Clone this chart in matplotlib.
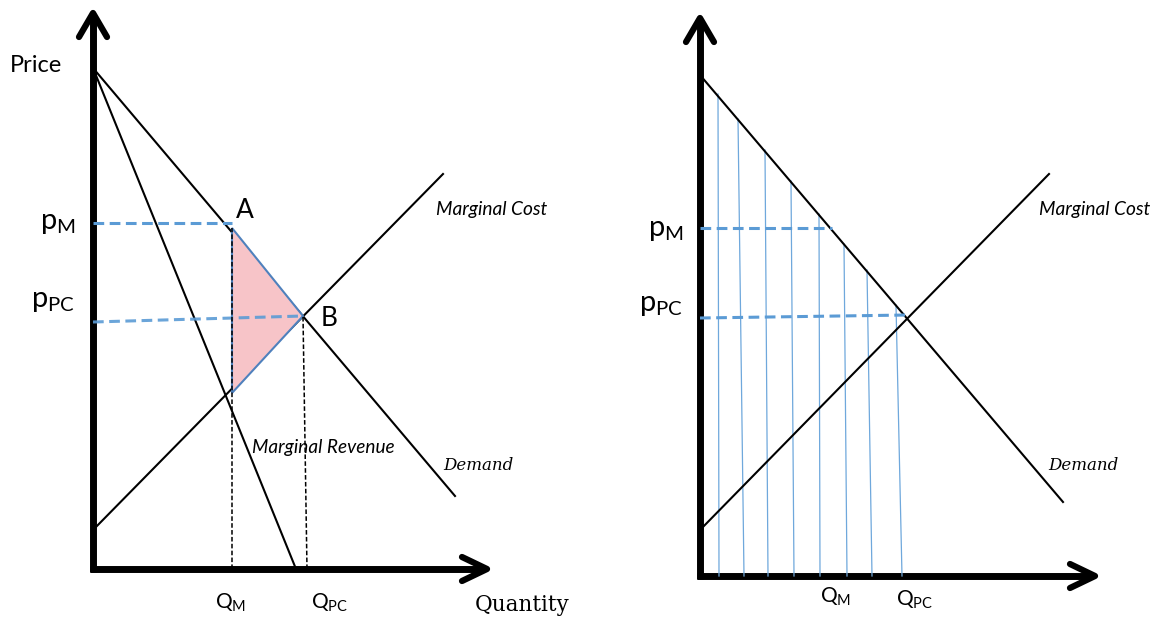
import numpy as np
import matplotlib.pyplot as plt

# ---- data (quantity, price units; origin = axes corner) ----
# left panel: monopoly vs perfect competition
L_demand_q = [0, 362]
L_demand_p = [501, 73]
L_mr_q = [0, 203]
L_mr_p = [501, 0]
L_mc_q = [0, 350]
L_mc_p = [39, 395]
L_tri_q = [139, 210, 139]          # deadweight-loss triangle A, B, C
L_tri_p = [341, 253, 176]
L_pm_q, L_pm_p = [0, 139], [346, 346]
L_ppc_q, L_ppc_p = [0, 210], [247, 253]
L_qm_q, L_qm_p = [139, 139], [0, 341]
L_qpc_q, L_qpc_p = [214, 210], [0, 253]

# right panel: demand / marginal cost with strips under demand
R_demand_q = [0, 363]
R_demand_p = [501, 74]
R_mc_q = [0, 349]
R_mc_p = [46, 402]
R_pm_q, R_pm_p = [0, 132], [348, 348]
R_ppc_q, R_ppc_p = [0, 208], [258, 261]
R_strip_top_q = [18, 38, 65, 91, 119, 144, 167, 196]
R_strip_top_p = [482, 457, 426, 395, 362, 332, 306, 271]
R_strip_bot_q = [19, 44, 68, 94, 120, 147, 172, 202]

sans = 'Lato'
serif = 'DejaVu Serif'
blue = '#5B9BD5'

fig = plt.figure(figsize=(11.66, 6.17), dpi=100)
axL = fig.add_axes([0, 0, 0.5, 1])
axR = fig.add_axes([0.5, 0, 0.5, 1])
axL.set_xlim(-93, 490)
axL.set_ylim(-48, 569)
axR.set_xlim(-117, 466)
axR.set_ylim(-41, 576)


def draw_axes(ax, xmax, ymax):
    ax.plot([0, 0], [-3, ymax - 2], color='black', lw=5, solid_capstyle='butt')
    ax.plot([-3, xmax - 2], [0, 0], color='black', lw=5, solid_capstyle='butt')
    ax.plot([-14, 0, 14], [ymax - 24, ymax, ymax - 24], color='black', lw=4.5,
            solid_capstyle='round', solid_joinstyle='round')
    ax.plot([xmax - 25, xmax, xmax - 25], [12, 0, -12], color='black', lw=4.5,
            solid_capstyle='round', solid_joinstyle='round')
    ax.axis('off')


# ---- left panel ----
ax = axL
draw_axes(ax, 394, 556)
ax.plot(L_demand_q, L_demand_p, color='black', lw=1.5)
ax.plot(L_mr_q, L_mr_p, color='black', lw=1.5)
ax.plot(L_mc_q, L_mc_p, color='black', lw=1.5)
ax.fill(L_tri_q, L_tri_p, facecolor='#F7C4C8', edgecolor='#4F81BD', lw=1.5, zorder=3)
ax.plot(L_pm_q, L_pm_p, color=blue, lw=2.2, ls=(0, (3.5, 1.8)), zorder=4)
ax.plot(L_ppc_q, L_ppc_p, color=blue, lw=2.2, ls=(0, (3.5, 1.8)), zorder=4, alpha=0.9)
ax.plot(L_qm_q, L_qm_p, color='black', lw=1.1, ls=(0, (3, 1.5)), zorder=5)
ax.plot(L_qpc_q, L_qpc_p, color='black', lw=1.1, ls=(0, (3, 1.5)), zorder=5)

ax.text(-83, 504, 'Price', family=sans, fontsize=17, ha='left', va='center')
ax.text(-17, 346, r'$\mathregular{p_M}$', family=sans, fontsize=21, ha='right', va='center')
ax.text(-18, 268, r'$\mathregular{p_{PC}}$', family=sans, fontsize=21, ha='right', va='center')
ax.text(138, -34, r'$\mathregular{Q_M}$', family=sans, fontsize=15, ha='center', va='center')
ax.text(218, -34, r'$\mathregular{Q_{PC}}$', family=sans, fontsize=15, ha='left', va='center')
ax.text(143, 358, 'A', family=sans, fontsize=19, ha='left', va='center')
ax.text(228, 251, 'B', family=sans, fontsize=19, ha='left', va='center')
ax.text(343, 360, 'Marginal Cost', family=sans, style='italic', fontsize=13.8,
        ha='left', va='center')
ax.text(159, 122, 'Marginal Revenue', family=sans, style='italic', fontsize=13.7,
        ha='left', va='center')
ax.text(350, 104, 'Demand', family=serif, style='italic', fontsize=12,
        ha='left', va='center')
ax.text(382, -36, 'Quantity', family=serif, fontsize=15.5, ha='left', va='center')

# ---- right panel ----
ax = axR
draw_axes(ax, 395, 558)
for qt, pt, qb in zip(R_strip_top_q, R_strip_top_p, R_strip_bot_q):
    ax.plot([qt, qb], [pt, 0], color='#6FA8DC', lw=0.9, zorder=2)
ax.plot(R_demand_q, R_demand_p, color='black', lw=1.5, zorder=3)
ax.plot(R_mc_q, R_mc_p, color='black', lw=1.5, zorder=3)
ax.plot(R_pm_q, R_pm_p, color=blue, lw=2.2, ls=(0, (3.5, 1.8)), zorder=4)
ax.plot(R_ppc_q, R_ppc_p, color=blue, lw=2.2, ls=(0, (3.5, 1.8)), zorder=4)

ax.text(-16, 346, r'$\mathregular{p_M}$', family=sans, fontsize=21, ha='right', va='center')
ax.text(-17, 271, r'$\mathregular{p_{PC}}$', family=sans, fontsize=21, ha='right', va='center')
ax.text(136, -21, r'$\mathregular{Q_M}$', family=sans, fontsize=15, ha='center', va='center')
ax.text(196, -24, r'$\mathregular{Q_{PC}}$', family=sans, fontsize=15, ha='left', va='center')
ax.text(339, 367, 'Marginal Cost', family=sans, style='italic', fontsize=13.8,
        ha='left', va='center')
ax.text(348, 111, 'Demand', family=serif, style='italic', fontsize=12,
        ha='left', va='center')

fig.savefig('out.png', dpi=100, facecolor='white')
